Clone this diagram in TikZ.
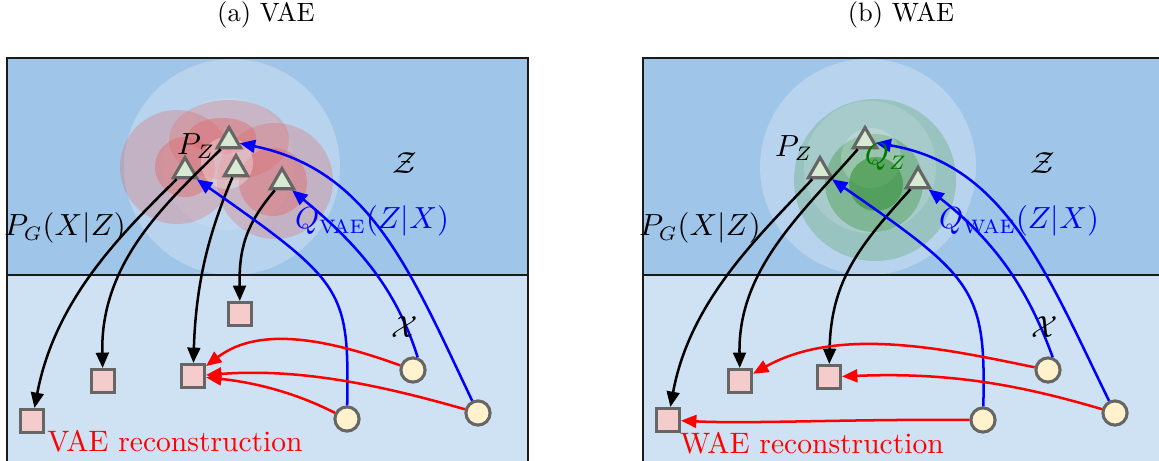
\documentclass[tikz,border=0pt]{standalone}
\usetikzlibrary{arrows.meta,shapes.geometric}
\definecolor{topblue}{HTML}{9FC5E8}
\definecolor{botblue}{HTML}{CFE2F3}
\definecolor{trifill}{HTML}{D9EAD3}
\definecolor{sqfill}{HTML}{F4CCCC}
\definecolor{cifill}{HTML}{FFF2CC}
\definecolor{edgegray}{HTML}{666666}
\definecolor{blobred}{HTML}{E06666}
\definecolor{blobgreen}{RGB}{55,145,55}
\definecolor{qgreen}{RGB}{0,120,0}
\definecolor{frame}{HTML}{1A1A1A}
\begin{document}
\begin{tikzpicture}[x=0.0126cm,y=-0.0126cm,
  tri/.style={regular polygon,regular polygon sides=3,draw=edgegray,fill=trifill,line width=1.1pt,minimum size=0.34cm,inner sep=0pt},
  sq/.style={rectangle,draw=edgegray,fill=sqfill,line width=1.1pt,minimum size=0.29cm,inner sep=0pt},
  ci/.style={circle,draw=edgegray,fill=cifill,line width=1.1pt,minimum size=0.305cm,inner sep=0pt},
  gen/.style={-{Triangle[length=5.5pt,width=4.6pt]},line width=0.9pt,draw=black},
  enc/.style={gen,draw=blue,-{Triangle[length=5.5pt,width=4.6pt,color=blue]}},
  rec/.style={gen,draw=red,-{Triangle[length=5.5pt,width=4.6pt,color=red]}},
  wisp/.style={fill=white,fill opacity=0.25},
  redo/.style={fill=blobred,fill opacity=0.3},
  redi/.style={fill=blobred,fill opacity=0.42},
  grn/.style={fill=blobgreen},
  ttl/.style={font=\fontsize{9.5}{11}\selectfont},
  lab/.style={font=\fontsize{10.6}{12}\selectfont},
]
\useasboundingbox (0,0) rectangle (1159,460);
\begin{scope}
\clip (0,0) rectangle (1159,460);
% panels
\fill[topblue] (7,58) rectangle (528,275);
\fill[botblue] (7,275) rectangle (528,470);
\fill[topblue] (643,58) rectangle (1165,275);
\fill[botblue] (643,275) rectangle (1165,470);
% VAE blobs
\fill[wisp] (232,167) circle[radius=108];
\fill[fill=white,fill opacity=0.12] (228,164) circle[radius=66];
\fill[redo] (177,167) circle[radius=57];
\fill[redo] (229,140) ellipse[x radius=60,y radius=40];
\fill[redo] (275,181) circle[radius=58];
\fill[redi] (185,167) circle[radius=30];
\fill[redi] (222,136) ellipse[x radius=34,y radius=18];
\fill[redi] (273,182) circle[radius=34];
\fill[fill=white,fill opacity=0.3] (227,163) circle[radius=26];
% WAE blobs
\fill[wisp] (868,167) circle[radius=108];
\fill[grn,fill opacity=0.24] (875,180) circle[radius=81];
\fill[fill=white,fill opacity=0.15] (870,167) circle[radius=66];
\fill[grn,fill opacity=0.35] (874,183) circle[radius=49];
\fill[fill=white,fill opacity=0.2] (871,158) circle[radius=30];
\fill[grn,fill opacity=0.6] (876,184) circle[radius=27];
% frames
\draw[frame,line width=0.8pt] (7,470) -- (7,58) -- (528,58) -- (528,470);
\draw[frame,line width=0.8pt] (7,275) -- (528,275);
\draw[frame,line width=0.8pt] (643,470) -- (643,58) -- (1165,58);
\draw[frame,line width=0.8pt] (643,275) -- (1165,275);
\end{scope}
% titles
\node[ttl] (ta) at (266,15) {(a) VAE};
\node[ttl] (tb) at (901,15) {(b) WAE};
% VAE nodes
\node[tri] (t0) at (229,141) {};
\node[tri] (t1) at (185,171) {};
\node[tri] (t2) at (236,169) {};
\node[tri] (t3) at (282,182) {};
\node[sq] (s1) at (32,421) {};
\node[sq] (s2) at (103,381) {};
\node[sq] (s3) at (193,376) {};
\node[sq] (s4) at (240,314) {};
\node[ci] (c1) at (413,370) {};
\node[ci] (c2) at (347,419) {};
\node[ci] (c3) at (478,413) {};
% WAE nodes
\node[tri] (u0) at (865,141) {};
\node[tri] (u1) at (820,171) {};
\node[tri] (u2) at (918,181) {};
\node[sq] (r1) at (668,420) {};
\node[sq] (r2) at (740,381) {};
\node[sq] (r3) at (829,377) {};
\node[ci] (d1) at (1048,370) {};
\node[ci] (d2) at (983,420) {};
\node[ci] (d3) at (1115,413) {};
% VAE arrows
\draw[gen] (t1) .. controls (120,235) and (55,300) .. (s1);
\draw[gen] (t0) .. controls (170,200) and (100,260) .. (s2);
\draw[gen] (t2) .. controls (210,230) and (196,280) .. (s3);
\draw[gen] (t3) .. controls (245,225) and (239,250) .. (s4);
\draw[enc] (c2) .. controls (349,290) and (345,283) .. (t1);
\draw[enc] (c1.70) .. controls (398,295) and (365,250) .. (t3);
\draw[enc] (c3) .. controls (410,270) and (370,170) .. (t0);
\draw[rec] (c1) .. controls (330,340) and (260,325) .. (s3);
\draw[rec] (c3) .. controls (380,385) and (300,368) .. (s3);
\draw[rec] (c2) .. controls (300,395) and (260,383) .. (s3);
% WAE arrows
\draw[gen] (u1) .. controls (760,235) and (690,300) .. (r1);
\draw[gen] (u0) .. controls (800,215) and (738,270) .. (r2);
\draw[gen] (u2) .. controls (860,245) and (831,280) .. (r3);
\draw[enc] (d2) .. controls (986,290) and (975,278) .. (u1);
\draw[enc] (d1.70) .. controls (1030,295) and (1000,245) .. (u2);
\draw[enc] (d3) .. controls (1045,270) and (1005,165) .. (u0);
\draw[rec] (d1) .. controls (950,350) and (840,325) .. (r2);
\draw[rec] (d3) .. controls (1020,385) and (950,372) .. (r3);
\draw[rec] (d2) .. controls (850,419) and (750,424) .. (r1);
% VAE labels
\node[lab] (pz) at (196,146) {$P_Z$};
\node[lab] (pg) at (65,228) {$P_G(X|Z)$};
\node[lab,text=blue] (qv) at (372,221) {$Q_{\mathrm{VAE}}(Z|X)$};
\node[lab] (zs) at (405,163) {$\mathcal{Z}$};
\node[lab] (xs) at (405,327) {$\mathcal{X}$};
\node[lab,text=red] (vr) at (175,441) {VAE reconstruction};
% WAE labels
\node[lab] (pz2) at (794,148) {$P_Z$};
\node[lab,text=qgreen] (qz) at (886,157) {$Q_Z$};
\node[lab] (pg2) at (700,228) {$P_G(X|Z)$};
\node[lab,text=blue] (qw) at (1019,221) {$Q_{\mathrm{WAE}}(Z|X)$};
\node[lab] (zs2) at (1043,163) {$\mathcal{Z}$};
\node[lab] (xs2) at (1045,327) {$\mathcal{X}$};
\node[lab,text=red] (wr) at (812,443) {WAE reconstruction};
\end{tikzpicture}
\end{document}
